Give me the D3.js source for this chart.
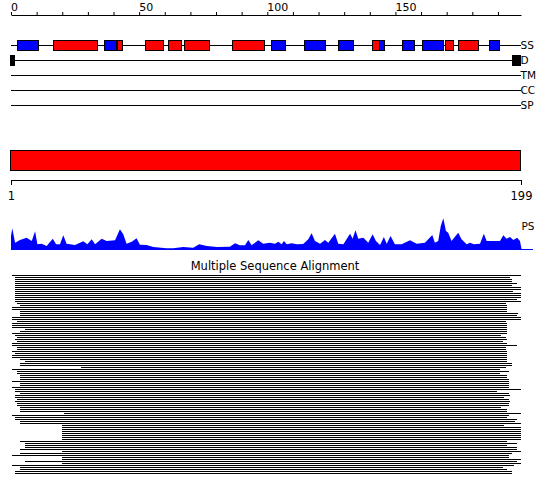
<!DOCTYPE html>
<html>
<head>
<meta charset="utf-8">
<script src="https://cdn.jsdelivr.net/npm/d3@7"></script>
<style>
body { margin: 0; background: #fff; }
svg { display: block; font-family: "DejaVu Sans", sans-serif; }
</style>
</head>
<body>
<svg width="550" height="495"></svg>
<script>
const seqLength = 199;
const topTicks = d3.range(0, 200, 10);
const topLabels = [0, 50, 100, 150];

// feature tracks
const trackNames = ["SS", "D", "TM", "CC", "SP"];

// secondary structure segments (H = helix, E = strand), residue positions
const ssStart = [2.5, 16.5, 36.4, 41.5, 52.4, 61.4, 67.6, 86.3, 101.3, 114.4, 127.7, 140.7, 143.7, 152.7, 160.5, 169.4, 174.5, 186.6];
const ssEnd   = [10.6, 33.8, 40.9, 43.6, 59.4, 66.6, 77.4, 98.6, 106.6, 122.6, 133.6, 143.7, 145.6, 157.4, 168.8, 172.6, 182.3, 190.5];
const ssType  = ["E", "H", "E", "H", "H", "H", "H", "H", "E", "E", "E", "H", "E", "E", "E", "H", "H", "E"];

// disorder segments
const disStart = [-0.3, 195.5];
const disEnd   = [1.7, 199];

// domain
const domStart = [1];
const domEnd = [199];

// PS profile (residue, score)
const psPos = [0, 0.5, 1.6, 3.5, 6.1, 8.1, 9.4, 10.3, 12, 13.9, 16.3, 17.6, 19.1, 20.4, 21.7, 25, 28.2, 29.8, 31.5, 32.8, 35.4, 37.3, 40.6, 42.5, 43.8, 45.1, 47.1, 49, 50.3, 52.9, 55.5, 60.7, 63.3, 67.2, 71.1, 73.4, 76.4, 80.3, 85.4, 87.4, 89.3, 91.3, 92.6, 93.9, 96.5, 98.4, 101,
  103, 104.3, 105.6, 106.5, 107.6, 109.5, 111.5, 114, 116, 117.3, 118.6, 120.6, 122.5, 123.8, 126.4, 127.7, 129.7, 132.3, 133.3, 134.4, 135.5, 137.5, 139.4, 141.1, 142.4, 144, 145.5, 146.6, 148.1, 149.8, 152.4, 155.7, 158.3, 161.5, 164.4, 165.4, 166.7, 167.7, 168.7, 169.7, 170.6, 171.9, 174.5, 175.8, 177.8, 179.1, 180.6, 183, 184.5, 185.6, 188.2, 190.8, 192.1, 193.4, 194.7, 196, 197.5, 198.6, 199.3];
const psVal = [14, 21.7, 7.3, 10, 12.3, 9, 18.7, 5.7, 6.3, 4, 11.3, 5.7, 5.7, 14.7, 6.3, 5, 8.7, 5.7, 10.7, 5.7, 11.3, 9, 9.7, 20.7, 15.7, 6.3, 8.3, 11.7, 5.3, 5, 3, 1.7, 1.7, 3, 2.3, 5.7, 4, 3, 3.3, 6.7, 4.7, 4.7, 10, 4.7, 9.7, 6.3, 7.3,
  6.3, 8.3, 5.7, 9, 5.7, 6.7, 5.7, 6, 10.7, 16.7, 9, 6.3, 10, 7.3, 16.3, 6.3, 5.7, 16.3, 11.3, 19.7, 11.3, 12.3, 7.3, 15.7, 9, 5, 13, 6.3, 14, 5.7, 5.7, 9.7, 6.3, 7.3, 15, 7.3, 9, 24, 31.7, 19, 17.3, 9, 17.3, 10.7, 5.7, 7.3, 5.7, 6.3, 16.3, 9, 9, 9, 14.7, 11.3, 13, 10, 12.3, 9, 0];

// multiple sequence alignment: coverage of each hit
const alnStart = [0.5, 1.5, 1.5, 1.5, 1.5, 1.5, 1.5, 1.5, 1.5, 1.5, 1.5, 1.5, 1.5, 1.5, 2.5, 3.5, 0.5, 0.5, 3.5, 3.5,
  3.5, 0.5, 0.5, 2.5, 0.5, 0.5, 0.5, 5.5, 3.5, 0.5, 1.5, 2.5, 1.5, 2.5, 0.5, 0.5, 2.5, 2.5, 0.5, 1.5,
  0.5, 0.5, 3.5, 5.5, 3.5, 3.5, 27.5, 0.5, 2.5, 2.5, 3.5, 3.5, 3.5, 0.5, 3.5, 3.5, 0.5, 1.5, 1.5, 3.5,
  1.5, 1.5, 2.5, 1.5, 2.5, 2.5, 3.5, 3.5, 3.5, 20.5, 0.5, 1.5, 1.5, 3.5, 3.5, 20, 20, 20, 20, 20,
  20, 20, 20, 3.5, 5.5, 5.5, 5.5, 3.5, 20, 3.5, 0.5, 20, 20, 5.5, 20, 0.5, 3.5, 3.5, 1.5, 1.5];
const alnEnd = [199, 194.5, 195.5, 195.5, 197.5, 195.5, 199, 199, 196, 199, 199, 199, 197.5, 199, 193.5, 193.5, 193.5, 193.5, 193.5, 198,
  197.5, 199, 199, 193.5, 193.5, 193.5, 193.5, 193.5, 193.5, 193.5, 191, 193.5, 193.5, 192, 193.5, 197.5, 193.5, 193.5, 193.5, 193.5,
  193.5, 193.5, 193.5, 193.5, 195.5, 195.5, 193.5, 191, 194.5, 191, 193.5, 193.5, 194.5, 194.5, 194.5, 194.5, 194.5, 199, 189.5, 194.5,
  194.5, 192.5, 194.5, 194.5, 194.5, 194.5, 191, 193.5, 193.5, 199, 194.5, 193.5, 197.5, 196.5, 199, 192.5, 199, 199, 199, 199,
  199, 199, 199, 193.5, 197.5, 193.5, 197.5, 197.5, 199, 195.5, 194.5, 194.5, 199, 197.5, 199, 196.5, 192, 193.5, 195.5, 195.5];

const svg = d3.select("svg");

var x = d3.scaleLinear().domain([0, seqLength]).range([11, 521]);
var xSeq = d3.scaleLinear().domain([1, seqLength]).range([11, 521]);
var trackY = d3.scalePoint().domain(trackNames).range([45, 105]);

// top ruler
const topAxis = d3.axisTop(x)
  .tickValues(topTicks)
  .tickSize(3)
  .tickSizeOuter(0)
  .tickPadding(1)
  .tickFormat(d => topLabels.includes(d) ? d : "");
const gTop = svg.append("g").attr("transform", "translate(0,15)").call(topAxis);
gTop.selectAll("text")
  .attr("text-anchor", "start")
  .attr("x", -0.5)
  .style("font-size", "11px")
  .style("font-family", "DejaVu Sans");

// track lines + labels
trackNames.forEach(function(name) {
  const y = Math.round(trackY(name)) + 0.5;
  svg.append("line")
    .attr("x1", x(0)).attr("x2", x(seqLength))
    .attr("y1", y).attr("y2", y)
    .attr("stroke", "#000");
  svg.append("text")
    .attr("x", x(seqLength) - 0.5)
    .attr("y", trackY(name))
    .attr("dy", "0.36em")
    .style("font-size", "10.5px")
    .text(name);
});

// SS boxes
const ssData = ssStart.map((s, i) => ({start: s, end: ssEnd[i], type: ssType[i]}));
svg.selectAll("rect.ss")
  .data(ssData)
  .enter()
  .append("rect")
  .attr("class", "ss")
  .attr("x", d => Math.round(x(d.start)) + 0.5)
  .attr("y", trackY("SS") - 5 + 0.5)
  .attr("width", d => Math.round(x(d.end) - x(d.start)))
  .attr("height", 10)
  .attr("fill", d => d.type == "H" ? "#ff0000" : "#0000ff")
  .attr("stroke", "#000");

// disorder
const disData = disStart.map((s, i) => ({start: s, end: disEnd[i]}));
svg.selectAll("rect.dis")
  .data(disData)
  .enter()
  .append("rect")
  .attr("class", "dis")
  .attr("x", d => Math.round(x(d.start)))
  .attr("y", trackY("D") - 5)
  .attr("width", d => Math.round(x(d.end) - x(d.start)))
  .attr("height", 11)
  .attr("fill", "#000");

// domain bar
const domData = domStart.map((s, i) => ({start: s, end: domEnd[i]}));
svg.selectAll("rect.dom")
  .data(domData)
  .enter()
  .append("rect")
  .attr("class", "dom")
  .attr("x", d => xSeq(d.start) - 0.5)
  .attr("y", 150.5)
  .attr("width", d => xSeq(d.end) - xSeq(d.start))
  .attr("height", 20)
  .attr("fill", "#ff0000")
  .attr("stroke", "#000");

const botAxis = d3.axisBottom(xSeq)
  .tickValues([1, seqLength])
  .tickSize(5)
  .tickSizeOuter(0)
  .tickPadding(7);
const gBot = svg.append("g").attr("transform", "translate(0,180)").call(botAxis);
gBot.selectAll("text")
  .style("font-size", "11.5px")
  .style("font-family", "DejaVu Sans");

// PS profile
var yPS = d3.scaleLinear().domain([0, 32]).range([250, 218]);
const psData = psPos.map((p, i) => ({pos: p, val: psVal[i]}));
svg.append("path")
  .datum(psData)
  .attr("d", d3.area().x(d => x(d.pos)).y0(yPS(0)).y1(d => yPS(d.val)))
  .attr("fill", "#0000ff");
svg.append("line")
  .attr("x1", x(0)).attr("x2", x(seqLength) + 12)
  .attr("y1", yPS(0) - 0.5).attr("y2", yPS(0) - 0.5)
  .attr("stroke", "#0000ff");
svg.append("text")
  .attr("x", x(seqLength) + 0.5)
  .attr("y", 226)
  .attr("dy", "0.36em")
  .style("font-size", "10.5px")
  .text("PS");

// alignment
svg.append("text")
  .attr("x", 275)
  .attr("y", 269.5)
  .attr("text-anchor", "middle")
  .style("font-size", "11.5px")
  .text("Multiple Sequence Alignment");

var rowY = d3.scaleBand().domain(d3.range(alnStart.length)).range([275, 275 + 2 * alnStart.length]);
const alnData = alnStart.map((s, i) => ({row: i, start: s, end: alnEnd[i]}));
svg.selectAll("rect.aln")
  .data(alnData)
  .enter()
  .append("rect")
  .attr("class", "aln")
  .attr("x", d => Math.round(x(d.start)))
  .attr("y", d => rowY(d.row))
  .attr("width", d => Math.round(x(d.end) - x(d.start)))
  .attr("height", 1)
  .attr("fill", "#000");
</script>
</body>
</html>
